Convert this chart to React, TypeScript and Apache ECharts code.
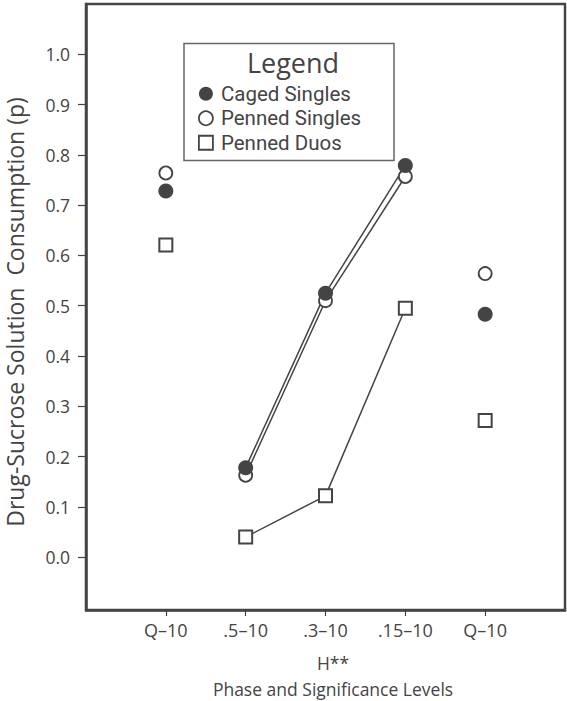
import React, { useEffect, useRef } from "react";
import * as echarts from "echarts";

// ---- data ----
const categories = ["Q\u201310", ".5\u201310", ".3\u201310", ".15\u201310", "Q\u201310"];
const xPositions = [1, 2, 3, 4, 5];
const cagedSingles = [0.728, 0.178, 0.525, 0.779, 0.483];
const pennedSingles = [0.764, 0.163, 0.51, 0.757, 0.564];
const pennedDuos = [0.621, 0.04, 0.122, 0.495, 0.272];
const connectedIdx = [1, 2, 3];
const yTicks = [0, 0.1, 0.2, 0.3, 0.4, 0.5, 0.6, 0.7, 0.8, 0.9, 1.0];
const seriesNames = ["Caged Singles", "Penned Singles", "Penned Duos"];
const yAxisTitle = "Drug-Sucrose Solution  Consumption (p)";
const xAxisTitle1 = "H**";
const xAxisTitle2 = "Phase and Significance Levels";
const legendTitle = "Legend";

const FONT = "'Open Sans', 'Noto Sans', sans-serif";
const LEGEND_FONT = "Roboto, 'Open Sans', sans-serif";
const INK = "#444444";

export default function App() {
  const ref = useRef<HTMLDivElement>(null);

  useEffect(() => {
    if (!ref.current) return;
    const chart = echarts.init(ref.current, undefined, { renderer: "svg" });

    const pts = (vals: number[]) => xPositions.map((x, i) => [x, vals[i]]);
    const linePts = (vals: number[]) => connectedIdx.map((i) => [xPositions[i], vals[i]]);

    const lineSeries = (name: string, vals: number[]) => ({
      name: name + " trend",
      type: "line",
      data: linePts(vals),
      showSymbol: false,
      symbol: "none",
      lineStyle: { color: INK, width: 1.5 },
      z: 1,
      silent: true,
    });

    chart.setOption({
      animation: false,
      textStyle: { fontFamily: FONT },
      grid: {
        left: 86,
        right: 2,
        top: 4,
        bottom: 91,
        show: true,
        borderColor: INK,
        borderWidth: 2.5,
        backgroundColor: "#fff",
      },
      xAxis: {
        type: "value",
        min: 0,
        max: 6,
        interval: 1,
        splitLine: { show: false },
        axisLine: { show: true, onZero: false, lineStyle: { color: INK, width: 2.5 } },
        axisTick: {
          show: true,
          inside: false,
          length: 6,
          lineStyle: { color: INK, width: 1.2 },
          customValues: xPositions,
        },
        axisLabel: {
          customValues: xPositions,
          formatter: (v: number) => categories[Math.round(v) - 1] ?? "",
          color: INK,
          fontSize: 18,
          fontFamily: FONT,
          margin: 11,
        },
      },
      yAxis: {
        type: "value",
        min: -0.105,
        max: 1.1,
        splitLine: { show: false },
        axisLine: { show: true, onZero: false, lineStyle: { color: INK, width: 2.5 } },
        axisTick: {
          show: true,
          inside: false,
          length: 8,
          lineStyle: { color: INK, width: 1.2 },
          customValues: yTicks,
        },
        axisLabel: {
          customValues: yTicks,
          formatter: (v: number) => v.toFixed(1),
          color: INK,
          fontSize: 17.5,
          fontFamily: FONT,
          margin: 16,
        },
      },
      legend: {
        orient: "vertical",
        left: 198,
        top: 81.5,
        padding: 0,
        itemWidth: 14,
        itemHeight: 14,
        itemGap: 0,
        selectedMode: false,
        textStyle: {
          fontSize: 20.5,
          lineHeight: 24.5,
          color: INK,
          fontFamily: LEGEND_FONT,
          padding: [0, 0, 0, 3],
        },
        data: [
          { name: seriesNames[0], icon: "circle", itemStyle: { color: INK, borderWidth: 0 } },
          {
            name: seriesNames[1],
            icon: "circle",
            itemStyle: { color: "#fff", borderColor: INK, borderWidth: 1.8 },
          },
          {
            name: seriesNames[2],
            icon: "rect",
            itemStyle: { color: "#fff", borderColor: INK, borderWidth: 1.8 },
          },
        ],
      },
      graphic: [
        {
          type: "rect",
          shape: { x: 184, y: 43.5, width: 210, height: 117 },
          style: { fill: "none", stroke: "#666", lineWidth: 1.5 },
          z: 10,
        },
        {
          type: "text",
          x: 293,
          y: 62,
          style: {
            text: legendTitle,
            fontSize: 27,
            fontFamily: FONT,
            fill: INK,
            align: "center",
            verticalAlign: "middle",
          },
          z: 10,
        },
        {
          type: "text",
          x: 15,
          y: 312,
          rotation: Math.PI / 2,
          style: {
            text: yAxisTitle,
            fontSize: 23,
            fontFamily: FONT,
            fill: INK,
            align: "center",
            verticalAlign: "middle",
          },
        },
        {
          type: "text",
          x: 333,
          y: 663,
          style: {
            text: xAxisTitle1,
            fontSize: 17.5,
            fontFamily: FONT,
            fill: INK,
            align: "center",
            verticalAlign: "middle",
          },
        },
        {
          type: "text",
          x: 333,
          y: 689,
          style: {
            text: xAxisTitle2,
            fontSize: 17.5,
            fontFamily: FONT,
            fill: INK,
            align: "center",
            verticalAlign: "middle",
          },
        },
      ],
      series: [
        lineSeries(seriesNames[2], pennedDuos),
        lineSeries(seriesNames[1], pennedSingles),
        lineSeries(seriesNames[0], cagedSingles),
        {
          name: seriesNames[2],
          type: "scatter",
          data: pts(pennedDuos),
          symbol: "rect",
          symbolSize: 13,
          itemStyle: { color: "#fff", borderColor: INK, borderWidth: 2, opacity: 1 },
          z: 3,
        },
        {
          name: seriesNames[1],
          type: "scatter",
          data: pts(pennedSingles),
          symbol: "circle",
          symbolSize: 13,
          itemStyle: { color: "#fff", borderColor: INK, borderWidth: 1.8, opacity: 1 },
          z: 4,
        },
        {
          name: seriesNames[0],
          type: "scatter",
          data: pts(cagedSingles),
          symbol: "circle",
          symbolSize: 15,
          itemStyle: { color: INK, borderWidth: 0, opacity: 1 },
          z: 5,
        },
      ],
    });

    return () => chart.dispose();
  }, []);

  return (
    <div
      ref={ref}
      style={{ position: "absolute", left: 0, top: 0, width: 567, height: 701, background: "#fff" }}
    />
  );
}
